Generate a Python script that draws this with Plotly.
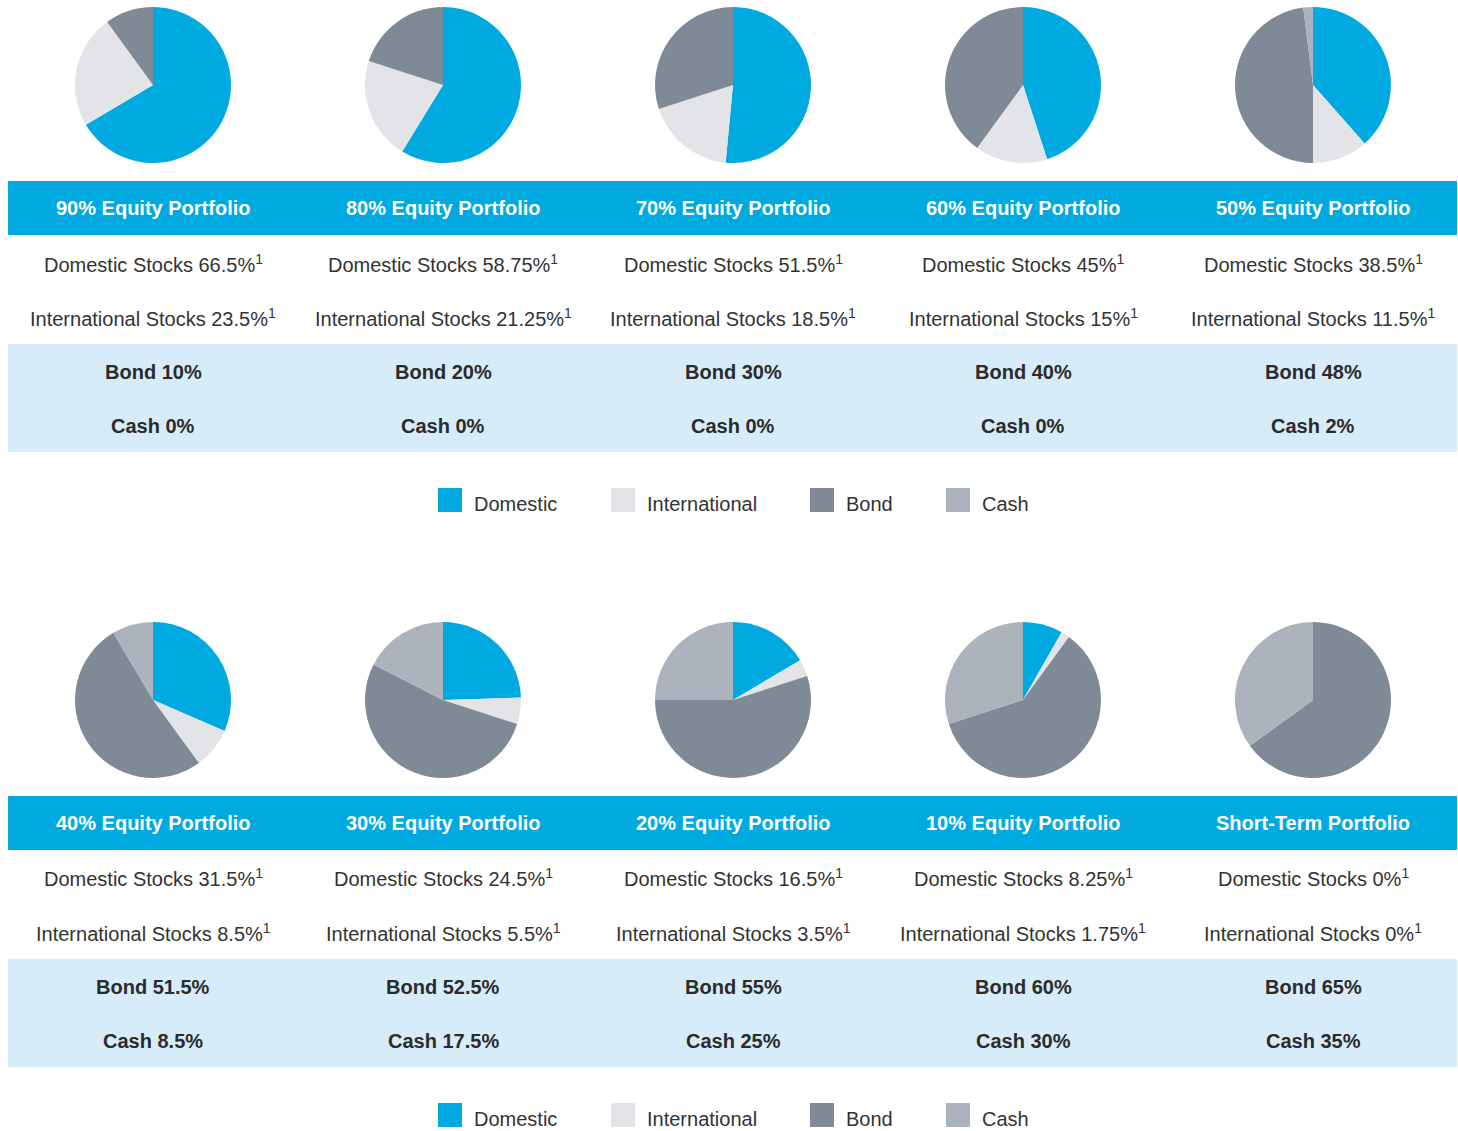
import plotly.graph_objects as go

W, H = 1458, 1131

portfolios = ["90% Equity Portfolio", "80% Equity Portfolio", "70% Equity Portfolio",
              "60% Equity Portfolio", "50% Equity Portfolio", "40% Equity Portfolio",
              "30% Equity Portfolio", "20% Equity Portfolio", "10% Equity Portfolio",
              "Short-Term Portfolio"]
domestic = [66.5, 58.75, 51.5, 45, 38.5, 31.5, 24.5, 16.5, 8.25, 0]
international = [23.5, 21.25, 18.5, 15, 11.5, 8.5, 5.5, 3.5, 1.75, 0]
bond = [10, 20, 30, 40, 48, 51.5, 52.5, 55, 60, 65]
cash = [0, 0, 0, 0, 2, 8.5, 17.5, 25, 30, 35]
categories = ["Domestic", "International", "Bond", "Cash"]

colors = ["#00A9E0", "#E3E4E8", "#7F8A96", "#ADB3BC"]
HEADER_BLUE = "#00A9E0"
LIGHT_BAND = "#D6ECF8"
TEXT = "#2B2B2B"
BODY = "#333333"
FONT = "Liberation Sans, Arial, sans-serif"


def px(x):
    return x / W


def py(y):
    return 1 - y / H


def fmt(v):
    return f"{v:g}"


fig = go.Figure()
shapes = []
annotations = []

col_w = 290
x0_strip = 8
R = 78

for row in range(2):
    off = 615 * row
    shapes.append(dict(type="rect", xref="paper", yref="paper",
                       x0=px(8), x1=px(1457), y0=py(235 + off), y1=py(181 + off),
                       fillcolor=HEADER_BLUE, line=dict(width=0), layer="below"))
    shapes.append(dict(type="rect", xref="paper", yref="paper",
                       x0=px(8), x1=px(1457), y0=py(452 + off), y1=py(344 + off),
                       fillcolor=LIGHT_BAND, line=dict(width=0), layer="below"))
    for c in range(5):
        i = row * 5 + c
        cx = x0_strip + col_w * c + col_w / 2
        cy = 85 + off
        fig.add_trace(go.Pie(
            labels=categories,
            values=[domestic[i], international[i], bond[i], cash[i]],
            marker=dict(colors=colors, line=dict(width=0)),
            sort=False, direction="clockwise", rotation=0,
            textinfo="none", hoverinfo="label+percent", showlegend=False,
            domain=dict(x=[px(cx - R), px(cx + R)], y=[py(cy + R), py(cy - R)]),
        ))
        annotations.append(dict(x=px(cx), y=py(208 + off), xref="paper", yref="paper",
                                text=f"<b>{portfolios[i]}</b>", showarrow=False,
                                font=dict(family=FONT, size=20, color="white"),
                                xanchor="center", yanchor="middle"))
        annotations.append(dict(x=px(cx), y=py(263 + off), xref="paper", yref="paper",
                                text=f"Domestic Stocks {fmt(domestic[i])}%<sup>1</sup>",
                                showarrow=False,
                                font=dict(family=FONT, size=20, color=BODY),
                                xanchor="center", yanchor="middle"))
        annotations.append(dict(x=px(cx), y=py(317 + off), xref="paper", yref="paper",
                                text=f"International Stocks {fmt(international[i])}%<sup>1</sup>",
                                showarrow=False,
                                font=dict(family=FONT, size=20, color=BODY),
                                xanchor="center", yanchor="middle"))
        annotations.append(dict(x=px(cx), y=py(372 + off), xref="paper", yref="paper",
                                text=f"<b>Bond {fmt(bond[i])}%</b>", showarrow=False,
                                font=dict(family=FONT, size=20, color=TEXT),
                                xanchor="center", yanchor="middle"))
        annotations.append(dict(x=px(cx), y=py(426 + off), xref="paper", yref="paper",
                                text=f"<b>Cash {fmt(cash[i])}%</b>", showarrow=False,
                                font=dict(family=FONT, size=20, color=TEXT),
                                xanchor="center", yanchor="middle"))
    leg_x = [438, 611, 810, 946]
    for k, name in enumerate(categories):
        shapes.append(dict(type="rect", xref="paper", yref="paper",
                           x0=px(leg_x[k]), x1=px(leg_x[k] + 24),
                           y0=py(512 + off), y1=py(488 + off),
                           fillcolor=colors[k], line=dict(width=0)))
        annotations.append(dict(x=px(leg_x[k] + 34), y=py(504 + off), xref="paper", yref="paper",
                                text=name, showarrow=False,
                                font=dict(family=FONT, size=20, color=BODY),
                                xanchor="left", yanchor="middle"))

fig.update_layout(
    width=W, height=H,
    margin=dict(l=0, r=0, t=0, b=0),
    paper_bgcolor="white", plot_bgcolor="white",
    shapes=shapes, annotations=annotations,
    showlegend=False,
)

fig.write_html("out.html", config={"displayModeBar": False},
               post_script="document.body.style.margin='0';document.body.style.overflow='hidden';")
